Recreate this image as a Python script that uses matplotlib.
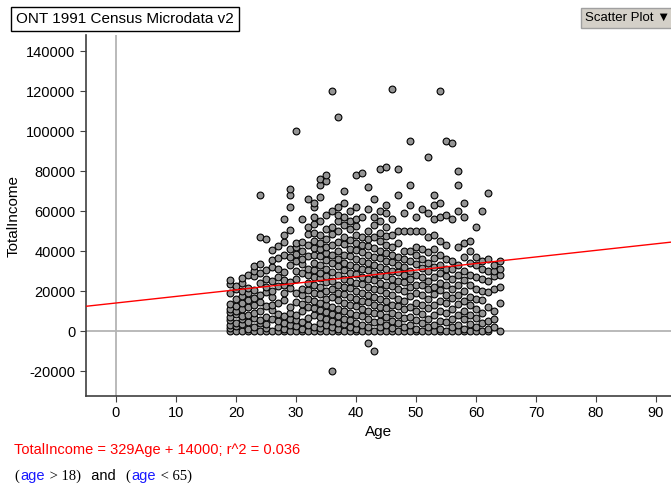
import matplotlib
matplotlib.use("Agg")
import matplotlib.pyplot as plt
from matplotlib.offsetbox import TextArea, HPacker, AnnotationBbox

plt.rcParams['font.family'] = ['Liberation Sans', 'DejaVu Sans']
plt.rcParams['axes.unicode_minus'] = False

# income in thousands, one list per age (19..64)
ages = list(range(19, 65))
income_k = [
    [0, 1.5, 3, 5.5, 7, 9.5, 11, 13.5, 19, 23.5, 25.5],
    [0, 2.5, 4, 8.5, 10, 12.5, 16, 21, 22.5],
    [0, 3.5, 6, 7.5, 11, 14, 17.5, 20, 24, 26.5],
    [0, 1, 4.5, 8, 12, 15.5, 19, 21.5, 28],
    [0, 2, 6.5, 9, 13, 16.5, 20.5, 27.5, 30, 32.5],
    [0, 4, 5.5, 10, 14.5, 18, 24, 29, 33.5, 47, 68],
    [0, 1.5, 3.5, 7, 12.5, 19.5, 22, 26, 30.5, 46],
    [0, 6, 10.5, 13, 17, 20, 25, 32, 35.5, 40.5],
    [0, 2, 5, 8.5, 14, 22.5, 27, 31, 36.5, 42.5],
    [0, 1, 4, 7.5, 15.5, 19, 23, 25.5, 29.5, 38, 44.5, 48, 56],
    [0, 3, 6, 9, 12, 21.5, 24.5, 33, 37, 41, 50.5, 62, 68, 71],
    [0, 2.5, 5.5, 8, 14.5, 19, 26, 30, 35, 38.5, 42, 44, 100],
    [0, 1, 4.5, 10, 13.5, 18, 21, 29, 33.5, 36, 40, 44.5, 56],
    [0, 3, 6.5, 12, 16, 20.5, 24, 28, 31, 37.5, 43, 48.5, 52, 66],
    [0, 2, 8, 11.5, 15, 19, 23, 27, 30.5, 34, 38, 41.5, 45, 49, 53.5, 57, 62, 64],
    [0, 1.5, 4, 7, 10.5, 14, 18.5, 22, 26.5, 29, 33, 37.5, 41, 44, 48, 55, 67, 73, 76],
    [0, 3, 6, 9.5, 13, 16, 20, 24.5, 27.5, 31, 35.5, 39, 42, 46, 51, 58, 75, 78],
    [-20, 0, 2, 5, 8.5, 12, 17, 21, 25, 29.5, 34, 38, 43, 48.5, 52, 60, 120],
    [0, 1, 4, 7.5, 11, 15.5, 19, 23, 28, 32.5, 36, 40, 44.5, 50, 55, 58, 62, 107],
    [0, 3.5, 6, 10, 14, 18.5, 22, 26, 30.5, 34, 38, 43.5, 47, 53, 57, 64, 70],
    [0, 2, 5.5, 9, 13, 17, 21.5, 25, 29, 33, 37.5, 41, 45.5, 51, 55, 60],
    [0, 1, 4, 8, 12.5, 16, 20, 24, 28.5, 32, 36, 40.5, 44, 48, 52.5, 56, 62, 78],
    [0, 3, 7.5, 11, 15, 19, 23.5, 27, 31, 35, 39.5, 43, 47, 57, 79],
    [-6, 0, 2, 6, 10, 14.5, 18, 22, 26, 30.5, 34, 38, 42.5, 46, 50, 61, 72],
    [-10, 0, 4.5, 9, 13, 17, 21, 25.5, 29, 33, 37, 41.5, 47, 53, 57, 66],
    [0, 2, 5, 8.5, 12, 16, 20.5, 24, 28, 32, 36.5, 40, 45, 49, 55, 60, 81],
    [0, 3, 7, 11.5, 15, 19, 23, 27.5, 31, 35, 39, 43, 47.5, 52, 59, 63, 82],
    [0, 1.5, 5, 9, 13, 18, 22.5, 26, 30, 34.5, 38, 42, 48, 56, 121],
    [0, 4, 8, 12.5, 16, 21, 25, 29.5, 33, 37, 44, 50, 68, 81],
    [0, 2, 6.5, 11, 15, 20, 24.5, 28, 32, 36, 40, 50, 59],
    [0, 3, 7, 12, 17.5, 22, 26, 30, 35, 40, 50, 63, 73, 95],
    [0, 1, 5.5, 10, 14, 19, 23, 28, 33.5, 38, 42, 50, 57],
    [0, 4, 8.5, 13, 18, 23, 27, 31.5, 36, 41, 50, 61],
    [0, 2, 6, 11.5, 16, 21, 25, 30, 34, 39.5, 47, 59, 87],
    [0, 3, 8, 13, 18.5, 22, 27, 32, 36.5, 41, 48, 56, 63, 68],
    [0, 1, 5, 10, 15, 20.5, 24, 29, 33, 38, 45, 57, 64, 120],
    [0, 4.5, 9, 14, 18, 23, 27.5, 31, 36, 43, 58, 95],
    [0, 2, 6, 11, 16.5, 21, 26, 31, 35, 56, 94],
    [0, 3, 8, 13.5, 18, 23, 28, 33, 42, 60, 73, 80],
    [0, 1, 6, 10, 15, 20, 25.5, 30, 37, 44, 57, 64],
    [0, 3.5, 8, 13, 17, 23, 28, 34, 40, 45],
    [0, 2, 6.5, 11, 16, 21, 27, 33, 37, 52],
    [0, 4, 9, 15.5, 20, 26, 31, 35, 60],
    [0, 1, 5, 12, 19.5, 25, 30, 36, 69],
    [2, 6, 10, 21, 27.5, 30, 33],
    [0, 14, 22, 28, 31, 35],
]

slope = 329
intercept = 14000
title = "ONT 1991 Census Microdata v2"
equation = "TotalIncome = 329Age + 14000; r^2 = 0.036"

xs = []
ys = []
for a, lst in zip(ages, income_k):
    for v in lst:
        xs.append(a)
        ys.append(v * 1000)

fig = plt.figure(figsize=(6.71, 4.86), dpi=100)
ax = fig.add_axes([86 / 671, 90 / 486, 585 / 671, 361 / 486])

ax.set_xlim(-5, 92.5)
ax.set_ylim(-32500, 148000)

ax.axhline(0, color='#b4b4b4', lw=1.3, zorder=1)
ax.axvline(0, color='#b4b4b4', lw=1.3, zorder=1)

ax.scatter(xs, ys, s=24, c='#949494', edgecolors='black', linewidths=0.8, zorder=3)

lx = [-5, 92.5]
ax.plot(lx, [slope * x + intercept for x in lx], color='red', lw=1, zorder=4)

ax.set_xticks(range(0, 100, 10))
ax.set_yticks(range(-20000, 150000, 20000))
ax.tick_params(labelsize=10.5, length=4, color='#404040')
for s in ['top', 'right']:
    ax.spines[s].set_visible(False)
for s in ['left', 'bottom']:
    ax.spines[s].set_color('#404040')
    ax.spines[s].set_linewidth(1.2)

ax.set_xlabel("Age", fontsize=11, labelpad=3)
ax.set_ylabel("TotalIncome", fontsize=11, labelpad=4)

fig.text(16 / 671, 1 - 19 / 486, title, fontsize=11, va='center', ha='left',
         bbox=dict(boxstyle='square,pad=0.35', fc='white', ec='black', lw=1))

fig.text(585 / 671, 1 - 18 / 486, "Scatter Plot \u25bc", fontsize=9.5, va='center', ha='left',
         bbox=dict(boxstyle='square,pad=0.3', fc='#d4d0c8', ec='#a0a0a0', lw=1))

fig.text(14 / 671, 1 - 450 / 486, equation, color='red', fontsize=10.5, va='center')

serif = dict(family='Liberation Serif', size=10.5, color='black')
sans_b = dict(family='Liberation Sans', size=10.5, color='#1a1aff')
sans_k = dict(family='Liberation Sans', size=10.5, color='black')
parts = [("(", serif), ("age", sans_b), (" > 18)", serif), ("  and  ", sans_k),
         ("(", serif), ("age", sans_b), (" < 65)", serif)]
pack = HPacker(children=[TextArea(t, textprops=p) for t, p in parts], pad=0, sep=1)
ab = AnnotationBbox(pack, (14 / 671, 1 - 476 / 486), xycoords='figure fraction',
                    box_alignment=(0, 0.5), frameon=False)
fig.add_artist(ab)

fig.savefig("out.png", dpi=100)
